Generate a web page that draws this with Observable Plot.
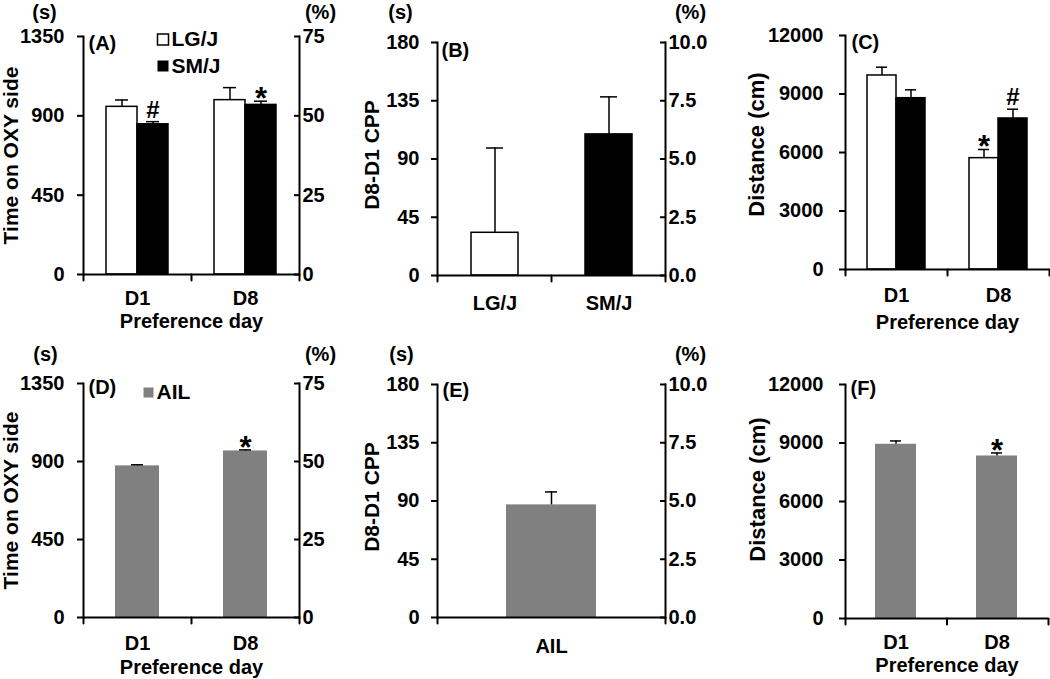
<!DOCTYPE html>
<html><head><meta charset="utf-8">
<script src="https://cdn.jsdelivr.net/npm/d3@7"></script>
<script src="https://cdn.jsdelivr.net/npm/@observablehq/plot@0.6"></script>
<style>
html,body{margin:0;padding:0;background:#fff;overflow:hidden;}
#root{position:relative;width:1050px;height:679px;}
#root svg{position:absolute;}
</style></head><body><div id="root"></div>
<script>
// ---------- data ----------
const days = ["D1", "D8"];
const strains = ["LG/J", "SM/J"];
const ail = ["AIL"];

// (A) time on OXY side (s), mean and SEM
const timeLGJ = [951, 989];
const timeLGJse = [39, 71];
const timeLGJsig = ["", ""];
const timeSMJ = [852, 962];
const timeSMJse = [15, 21];
const timeSMJsig = ["#", "*"];

// (B) D8-D1 CPP (s)
const cppStrain = [33, 109];
const cppStrainSe = [65.5, 29];

// (C) distance (cm)
const distLGJ = [9950, 5710];
const distLGJse = [425, 445];
const distLGJsig = ["", "*"];
const distSMJ = [8785, 7745];
const distSMJse = [430, 475];
const distSMJsig = ["", "#"];

// (D) AIL time on OXY side (s)
const timeAIL = [875, 961];
const timeAILse = [6, 6];
const timeAILsig = ["", "*"];

// (E) AIL D8-D1 CPP (s)
const cppAIL = [87];
const cppAILse = [10];

// (F) AIL distance (cm)
const distAIL = [8935, 8335];
const distAILse = [170, 155];
const distAILsig = ["", "*"];

const timeTicks = [0, 450, 900, 1350];
const cppTicks = [0, 45, 90, 135, 180];
const distTicks = [0, 3000, 6000, 9000, 12000];
const sessionSeconds = 1800;

// ---------- tables ----------
const rowsA = days.flatMap((day, i) => [
  {day, strain: "LG/J", mean: timeLGJ[i], se: timeLGJse[i], sig: timeLGJsig[i]},
  {day, strain: "SM/J", mean: timeSMJ[i], se: timeSMJse[i], sig: timeSMJsig[i]}
]);
const rowsB = strains.map((strain, i) => ({strain, mean: cppStrain[i], se: cppStrainSe[i], sig: ""}));
const rowsC = days.flatMap((day, i) => [
  {day, strain: "LG/J", mean: distLGJ[i], se: distLGJse[i], sig: distLGJsig[i]},
  {day, strain: "SM/J", mean: distSMJ[i], se: distSMJse[i], sig: distSMJsig[i]}
]);
const rowsD = days.map((day, i) => ({day, mean: timeAIL[i], se: timeAILse[i], sig: timeAILsig[i]}));
const rowsE = ail.map((group, i) => ({group, mean: cppAIL[i], se: cppAILse[i], sig: ""}));
const rowsF = days.map((day, i) => ({day, mean: distAIL[i], se: distAILse[i], sig: distAILsig[i]}));

// ---------- drawing ----------
const FONT = "'Liberation Sans', Arial, Helvetica, sans-serif";
const tickDown = {draw(ctx, l) { ctx.moveTo(0, 0); ctx.lineTo(0, l); }};
const strainColor = {domain: strains, range: ["white", "black"]};
const pctInt = d => String(Math.round(d / sessionSeconds * 100));
const pctDec = d => (d / sessionSeconds * 100).toFixed(1);

function panel(p) {
  const facet = !!p.facet;
  const fx = facet ? "day" : undefined;
  const fa = side => facet ? side : undefined;
  const xKey = p.xKey;
  const top = d => d.mean + d.se;
  const marks = [];
  marks.push(Plot.barY(p.rows, {fx, x: xKey, y: "mean", fill: p.fill, stroke: p.stroke, strokeWidth: 1.5}));
  marks.push(Plot.ruleX(p.rows, {fx, x: xKey, y1: "mean", y2: top, strokeWidth: 1.5}));
  marks.push(Plot.tickY(p.rows, {fx, x: xKey, y: top, strokeWidth: 1.5, inset: p.capInset}));
  const hash = p.rows.filter(d => d.sig === "#");
  const star = p.rows.filter(d => d.sig === "*");
  if (hash.length) marks.push(Plot.text(hash, {fx, x: xKey, y: top, text: "sig", lineAnchor: "bottom", dy: -4, fontSize: 24}));
  if (star.length) marks.push(Plot.text(star, {fx, x: xKey, y: top, text: "sig", lineAnchor: "bottom", dy: 8, fontSize: 31}));
  // axes lines
  marks.push(Plot.frame({anchor: "left", strokeWidth: 2, facetAnchor: fa("left")}));
  if (p.rightFormat) marks.push(Plot.frame({anchor: "right", strokeWidth: 2, facetAnchor: fa("right")}));
  marks.push(Plot.ruleY([0], {strokeWidth: 2}));
  // y axes
  marks.push(Plot.axisY({ticks: p.yTicks, tickSize: 6, tickPadding: p.leftPad, strokeWidth: 2, label: null, tickFormat: d => String(d)}));
  if (p.rightFormat) marks.push(Plot.axisY({anchor: "right", ticks: p.yTicks, tickSize: 6, dx: -6, tickPadding: 3, strokeWidth: 2, label: null, tickFormat: p.rightFormat}));
  // x axis ticks at category boundaries
  if (facet) {
    marks.push(Plot.vector([0], {frameAnchor: "bottom-left", length: 6, shape: tickDown, anchor: "start", strokeWidth: 2}));
    marks.push(Plot.vector([0], {frameAnchor: "bottom-right", length: 6, shape: tickDown, anchor: "start", strokeWidth: 2, facetAnchor: "right"}));
    marks.push(Plot.axisFx({anchor: "bottom", tickSize: 0, tickPadding: p.xPad, label: p.xLabel, labelAnchor: "center", labelOffset: p.xLabelOffset}));
  } else {
    for (const fa2 of p.boundaries) marks.push(Plot.vector([0], {frameAnchor: fa2, length: 6, shape: tickDown, anchor: "start", strokeWidth: 2}));
    marks.push(Plot.axisX({anchor: "bottom", tickSize: 0, tickPadding: p.xPad, label: p.xLabel ?? null, labelAnchor: "center", labelOffset: p.xLabelOffset}));
  }
  // y label
  marks.push(Plot.text([p.yLabel], {text: d => d, frameAnchor: "left", rotate: -90, textAnchor: "middle", lineAnchor: "middle", dx: p.yLabelX - p.ml, dy: p.yLabelDy || 0, fontSize: p.yLabelSize || 21, facetAnchor: fa("left")}));
  // notes: [text, x, y, anchor]
  for (const [t, x, y, anchor] of p.notes) {
    marks.push(Plot.text([t], {text: d => d, frameAnchor: "top-left", textAnchor: anchor, lineAnchor: "middle", dx: x - p.ml, dy: y - p.mt, facetAnchor: fa("left")}));
  }
  // legend: [label, fill, x, y, side]
  for (const [t, fill, x, y, side] of (p.legend || [])) {
    marks.push(Plot.dot([t], {frameAnchor: "top-left", dx: x - p.ml, dy: y - p.mt, symbol: "square", r: side / 1.772, fill, stroke: fill === "white" ? "black" : "none", strokeWidth: 1.5, facetAnchor: fa("left")}));
    marks.push(Plot.text([t], {text: d => d, frameAnchor: "top-left", textAnchor: "start", lineAnchor: "middle", dx: x + side / 2 + 3 - p.ml, dy: y - p.mt, fontSize: 21, facetAnchor: fa("left")}));
  }
  const opts = {
    width: p.width, height: p.height,
    marginLeft: p.ml, marginRight: p.mr, marginTop: p.mt, marginBottom: p.mb,
    style: {fontFamily: FONT, fontSize: "20px", fontWeight: "bold", color: "black", background: "transparent", overflow: "visible"},
    y: {domain: p.yDomain},
    marks
  };
  if (facet) {
    opts.fx = {domain: days, padding: 0};
    opts.x = {domain: strains, paddingInner: 0, paddingOuter: p.po, axis: null};
  } else {
    opts.x = {domain: p.xDomain, paddingInner: p.pi, paddingOuter: p.po};
  }
  if (p.color) opts.color = p.color;
  const svg = Plot.plot(opts);
  svg.style.left = p.left + "px";
  svg.style.top = p.top + "px";
  document.getElementById("root").appendChild(svg);
}

panel({
  left: 0, top: 0, width: 350, height: 340, ml: 83, mr: 51, mt: 36, mb: 66,
  facet: true, rows: rowsA, xKey: "strain", po: 0.714, capInset: 9,
  fill: "strain", stroke: "black", color: strainColor,
  yDomain: [0, 1350], yTicks: timeTicks, leftPad: 13, rightFormat: pctInt,
  yLabel: "Time on OXY side", yLabelX: 11,
  xPad: 16, xLabel: "Preference day", xLabelOffset: 53,
  notes: [["(s)", 44, 12, "middle"], ["(%)", 320, 12, "middle"], ["(A)", 88, 43, "start"]],
  legend: [["LG/J", "white", 162.5, 39, 11], ["SM/J", "black", 162.5, 65.5, 11]]
});

panel({
  left: 350, top: 0, width: 350, height: 340, ml: 87, mr: 35, mt: 42, mb: 65,
  rows: rowsB, xKey: "strain", xDomain: strains, pi: 0.592, po: 0.296, capInset: 15,
  fill: "strain", stroke: "black", color: strainColor,
  yDomain: [0, 180], yTicks: cppTicks, leftPad: 12, rightFormat: pctDec,
  yLabel: "D8-D1 CPP", yLabelX: 21.5, yLabelDy: -4,
  boundaries: ["bottom-left", "bottom", "bottom-right"],
  xPad: 20,
  notes: [["(s)", 50, 12, "middle"], ["(%)", 340, 12, "middle"], ["(B)", 91, 50, "start"]]
});

panel({
  left: 700, top: 0, width: 350, height: 340, ml: 144, mr: 1, mt: 35, mb: 71,
  facet: true, rows: rowsC, xKey: "strain", po: 0.737, capInset: 9,
  fill: "strain", stroke: "black", color: strainColor,
  yDomain: [0, 12000], yTicks: distTicks, leftPad: 16,
  yLabel: "Distance (cm)", yLabelX: 55.5, yLabelDy: -8, yLabelSize: 22,
  xPad: 18, xLabel: "Preference day", xLabelOffset: 59,
  notes: [["(C)", 150, 42, "start"]]
});

panel({
  left: 0, top: 340, width: 350, height: 339, ml: 83, mr: 51, mt: 43, mb: 62,
  rows: rowsD, xKey: "day", xDomain: days, pi: 0.588, po: 0.294, capInset: 16,
  fill: "#808080",
  yDomain: [0, 1350], yTicks: timeTicks, leftPad: 13, rightFormat: pctInt,
  yLabel: "Time on OXY side", yLabelX: 11,
  boundaries: ["bottom-left", "bottom", "bottom-right"],
  xPad: 18, xLabel: "Preference day", xLabelOffset: 56,
  notes: [["(s)", 45, 14, "middle"], ["(%)", 320, 14, "middle"], ["(D)", 88, 47, "start"]],
  legend: [["AIL", "#808080", 148, 52, 10]]
});

panel({
  left: 350, top: 340, width: 350, height: 339, ml: 87, mr: 35, mt: 44, mb: 62,
  rows: rowsE, xKey: "group", xDomain: ail, pi: 0, po: 0.757, capInset: 39,
  fill: "#808080",
  yDomain: [0, 180], yTicks: cppTicks, leftPad: 12, rightFormat: pctDec,
  yLabel: "D8-D1 CPP", yLabelX: 21.5, yLabelDy: -4,
  boundaries: ["bottom-left", "bottom-right"],
  xPad: 21,
  notes: [["(s)", 51, 14, "middle"], ["(%)", 340, 14, "middle"], ["(E)", 92, 50, "start"]]
});

panel({
  left: 700, top: 340, width: 350, height: 339, ml: 145, mr: 2, mt: 44, mb: 61,
  rows: rowsF, xKey: "day", xDomain: days, pi: 0.591, po: 0.295, capInset: 15,
  fill: "#808080",
  yDomain: [0, 12000], yTicks: distTicks, leftPad: 16,
  yLabel: "Distance (cm)", yLabelX: 57, yLabelDy: -12, yLabelSize: 22,
  boundaries: ["bottom-left", "bottom", "bottom-right"],
  xPad: 16, xLabel: "Preference day", xLabelOffset: 53,
  notes: [["(F)", 150, 48, "start"]]
});
</script>
</body></html>
